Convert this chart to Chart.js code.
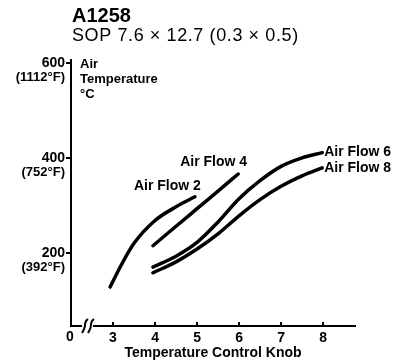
<!DOCTYPE html>
<html>
<head>
<meta charset="utf-8">
<script src="https://cdn.jsdelivr.net/npm/chart.js@4.4.0/dist/chart.umd.min.js"></script>
<style>
  html, body { margin: 0; padding: 0; background: #fff; }
  #wrap { width: 398px; height: 362px; }
</style>
</head>
<body>
<div id="wrap"><canvas id="knobChart" width="398" height="362"></canvas></div>
<script>
// Axis ticks
const knobTicks = [3, 4, 5, 6, 7, 8];
const tempTicks = [200, 400, 600];
const tempTicksF = ['(392°F)', '(752°F)', '(1112°F)'];

// Curves: temperature control knob setting vs air temperature (°C)
const seriesNames = ['Air Flow 2', 'Air Flow 4', 'Air Flow 6', 'Air Flow 8'];
const flow2Knob = [2.93, 3.2, 3.5, 4.0, 4.5, 4.95];
const flow2Temp = [128, 175, 220, 268, 297, 318];
const flow4Knob = [3.95, 4.5, 5.0, 5.5, 5.98];
const flow4Temp = [215, 256, 293, 330, 366];
const flow6Knob = [3.95, 4.5, 5.0, 5.5, 6.0, 6.5, 7.0, 7.5, 7.98];
const flow6Temp = [170, 193, 222, 265, 314, 352, 382, 400, 411];
const flow8Knob = [3.95, 4.5, 5.0, 5.5, 6.0, 6.5, 7.0, 7.5, 7.98];
const flow8Temp = [158, 181, 208, 240, 278, 312, 340, 362, 379];

const FONT = '"Liberation Sans", Arial, Helvetica, sans-serif';
Chart.defaults.font.family = FONT;
Chart.defaults.color = '#000';

// where each curve's name sits relative to the curve's last point
const labelOffsets = [[-61, -11], [-58, -12], [2, 0], [2, 0]];

function toPoints(xs, ys) {
  return xs.map((x, i) => ({ x: x, y: ys[i] }));
}

function curve(data) {
  return {
    data: data,
    borderColor: '#000',
    borderWidth: 3.5,
    borderCapStyle: 'round',
    pointRadius: 0,
    cubicInterpolationMode: 'monotone',
    fill: false
  };
}

const decorations = {
  id: 'decorations',
  afterDraw(chart) {
    const ctx = chart.ctx;
    const xs = chart.scales.x;
    const ys = chart.scales.y;
    const area = chart.chartArea;
    ctx.save();
    ctx.fillStyle = '#000';
    ctx.strokeStyle = '#000';

    // heading
    ctx.textAlign = 'left';
    ctx.textBaseline = 'middle';
    ctx.font = 'bold 20px ' + FONT;
    ctx.fillText('A1258', 72, 16);
    ctx.font = '18px ' + FONT;
    ctx.letterSpacing = '0.6px';
    ctx.fillText('SOP 7.6 × 12.7 (0.3 × 0.5)', 72, 36);
    ctx.letterSpacing = '0px';

    // fahrenheit equivalents under the celsius ticks
    ctx.textAlign = 'right';
    ctx.font = 'bold 13px ' + FONT;
    tempTicks.forEach((t, i) => {
      ctx.fillText(tempTicksF[i], area.left - 6, ys.getPixelForValue(t) + 15);
    });

    // y axis caption
    ctx.textAlign = 'left';
    ctx.font = 'bold 13px ' + FONT;
    ctx.fillText('Air', area.left + 9, 64);
    ctx.fillText('Temperature', area.left + 9, 79);
    ctx.fillText('°C', area.left + 9, 94);

    // origin label
    ctx.textAlign = 'center';
    ctx.font = 'bold 14px ' + FONT;
    ctx.fillText('0', area.left - 1, area.bottom + 11);

    // small knob tick marks above the axis
    ctx.lineWidth = 2;
    knobTicks.forEach(k => {
      const px = xs.getPixelForValue(k);
      ctx.beginPath();
      ctx.moveTo(px, area.bottom);
      ctx.lineTo(px, area.bottom - 4);
      ctx.stroke();
    });

    // axis break
    ctx.fillStyle = '#fff';
    ctx.fillRect(area.left + 11, area.bottom - 3, 11, 6);
    ctx.lineWidth = 2;
    [area.left + 13, area.left + 19].forEach(bx => {
      ctx.beginPath();
      ctx.moveTo(bx - 2, area.bottom + 7);
      ctx.quadraticCurveTo(bx + 1, area.bottom + 2, bx + 1, area.bottom - 1);
      ctx.quadraticCurveTo(bx + 1, area.bottom - 5, bx + 4, area.bottom - 7);
      ctx.stroke();
    });

    // curve names
    ctx.fillStyle = '#000';
    ctx.textAlign = 'left';
    ctx.textBaseline = 'middle';
    ctx.font = 'bold 14px ' + FONT;
    chart.data.datasets.forEach((ds, i) => {
      const pts = chart.getDatasetMeta(i).data;
      const last = pts[pts.length - 1];
      ctx.fillText(seriesNames[i], last.x + labelOffsets[i][0], last.y + labelOffsets[i][1]);
    });
    ctx.restore();
  }
};

new Chart(document.getElementById('knobChart'), {
  type: 'line',
  data: {
    datasets: [
      curve(toPoints(flow2Knob, flow2Temp)),
      curve(toPoints(flow4Knob, flow4Temp)),
      curve(toPoints(flow6Knob, flow6Temp)),
      curve(toPoints(flow8Knob, flow8Temp))
    ]
  },
  options: {
    responsive: false,
    animation: false,
    layout: { padding: { top: 60, right: 43, left: 0, bottom: 0 } },
    plugins: { legend: { display: false }, tooltip: { enabled: false } },
    scales: {
      x: {
        type: 'linear',
        min: 2,
        max: 8.76,
        afterBuildTicks: s => { s.ticks = knobTicks.map(v => ({ value: v })); },
        afterFit: s => { s.height = 36; },
        grid: { display: false, drawTicks: false },
        border: { display: true, color: '#000', width: 2 },
        ticks: {
          font: { size: 14, weight: 'bold' },
          padding: 4,
          maxRotation: 0,
          autoSkip: false
        },
        title: {
          display: true,
          text: 'Temperature Control Knob',
          align: 'center',
          font: { size: 14, weight: 'bold' },
          padding: { top: 0, bottom: 0 }
        }
      },
      y: {
        type: 'linear',
        min: 46,
        max: 606,
        afterBuildTicks: s => { s.ticks = tempTicks.map(v => ({ value: v })); },
        afterFit: s => { s.width = 71; },
        grid: {
          display: true,
          drawOnChartArea: false,
          drawTicks: true,
          tickLength: 5,
          color: '#000',
          lineWidth: 2
        },
        border: { display: true, color: '#000', width: 2 },
        ticks: {
          font: { size: 14, weight: 'bold' },
          padding: 1
        }
      }
    }
  },
  plugins: [decorations]
});
</script>
</body>
</html>
